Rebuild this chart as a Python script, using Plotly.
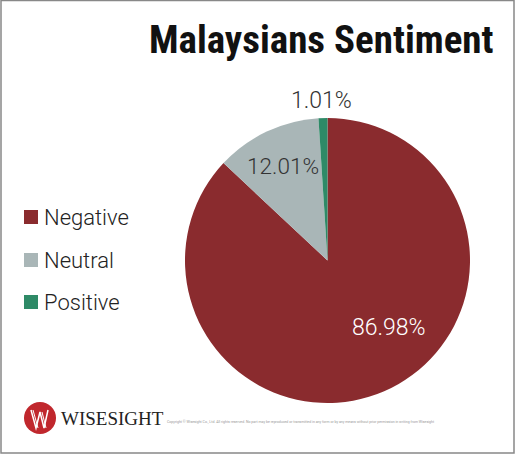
import plotly.graph_objects as go

labels = ["Negative", "Neutral", "Positive"]
values = [86.98, 12.01, 1.01]
colors = ["#8A2B2E", "#A9B6B7", "#2E8A67"]
text_colors = ["#FFFFFF", "#333333", "#333333"]
title_text = "Malaysians Sentiment"
logo_text = "WISESIGHT"
copyright_text = ("Copyright © Wisesight Co., Ltd. All rights reserved. No part may be reproduced or transmitted "
                  "in any form or by any means without prior permission in writing from Wisesight")

W, H = 520, 456
def px(x):
    return x / W
def py(y):
    return 1 - y / H

cx, cy, r = 327.5, 260.5, 142.5

# Neutral label placed by Plotly; Negative/Positive labels placed as in the original
slice_text = ["", f"{values[1]:.2f}%", ""]

fig = go.Figure()
fig.add_trace(go.Pie(
    labels=labels,
    values=values,
    sort=False,
    direction="clockwise",
    rotation=0,
    marker=dict(colors=colors, line=dict(width=0)),
    text=slice_text,
    textinfo="text",
    textposition=["none", "inside", "none"],
    insidetextfont=dict(family="Roboto", size=23, color=text_colors, weight=300),
    insidetextorientation="horizontal",
    domain=dict(x=[px(cx - r), px(cx + r)], y=[py(cy + r), py(cy - r)]),
    showlegend=False,
    hoverinfo="label+percent",
))

shapes = []
annotations = []

label_pos = {0: (389, 327), 2: (321, 100)}
for i, (lx, ly) in label_pos.items():
    annotations.append(dict(x=px(lx), y=py(ly), xref="paper", yref="paper",
                            xanchor="center", yanchor="middle", text=f"{values[i]:.2f}%", showarrow=False,
                            font=dict(family="Roboto", size=23, color=text_colors[i], weight=300)))

# title
annotations.append(dict(
    x=px(496), y=py(40), xref="paper", yref="paper", xanchor="right", yanchor="middle",
    text="<b>" + title_text + "</b>", showarrow=False,
    font=dict(family="Liberation Sans Narrow, Roboto Condensed, Roboto", size=39, color="#111111"),
))

# legend (built from labels/colors)
leg_y = [217, 260, 302]
for lab, col, yy in zip(labels, colors, leg_y):
    shapes.append(dict(type="rect", xref="paper", yref="paper",
                       x0=px(24), x1=px(38), y0=py(yy + 7), y1=py(yy - 7),
                       fillcolor=col, line=dict(width=0)))
    annotations.append(dict(x=px(42), y=py(yy), xref="paper", yref="paper",
                            xanchor="left", yanchor="middle", text=lab, showarrow=False,
                            font=dict(family="Roboto", size=22, color="#222222", weight=300)))

# logo
shapes.append(dict(type="circle", xref="paper", yref="paper",
                   x0=px(24), x1=px(56), y0=py(434), y1=py(402),
                   fillcolor="#C0272D", line=dict(width=0)))
shapes.append(dict(type="path", xref="paper", yref="paper",
                   path=f"M {px(31)} {py(410)} L {px(36)} {py(428)} L {px(40)} {py(412)} L {px(44)} {py(428)} L {px(48)} {py(410)}",
                   line=dict(color="white", width=1.5)))
shapes.append(dict(type="path", xref="paper", yref="paper",
                   path=f"M {px(33)} {py(410)} L {px(38)} {py(428)} M {px(42)} {py(412)} L {px(46)} {py(428)}",
                   line=dict(color="white", width=1)))
annotations.append(dict(x=px(59), y=py(418), xref="paper", yref="paper",
                        xanchor="left", yanchor="middle", text=logo_text, showarrow=False,
                        font=dict(family="Liberation Serif", size=19, color="#222222")))
annotations.append(dict(x=px(165), y=py(421), xref="paper", yref="paper",
                        xanchor="left", yanchor="middle", text=copyright_text, showarrow=False,
                        font=dict(family="Roboto", size=3.5, color="#999999")))

# frame
shapes.append(dict(type="rect", xref="paper", yref="paper",
                   x0=px(1), x1=px(514), y0=py(453), y1=py(0.5),
                   fillcolor="rgba(0,0,0,0)", line=dict(color="#888888", width=1.5)))

fig.update_layout(
    width=W, height=H,
    margin=dict(l=0, r=0, t=0, b=0),
    paper_bgcolor="white",
    plot_bgcolor="white",
    shapes=shapes,
    annotations=annotations,
    showlegend=False,
)

fig.write_html("out.html", config={"displayModeBar": False},
               post_script="document.body.style.margin='0';document.body.style.overflow='hidden';")
